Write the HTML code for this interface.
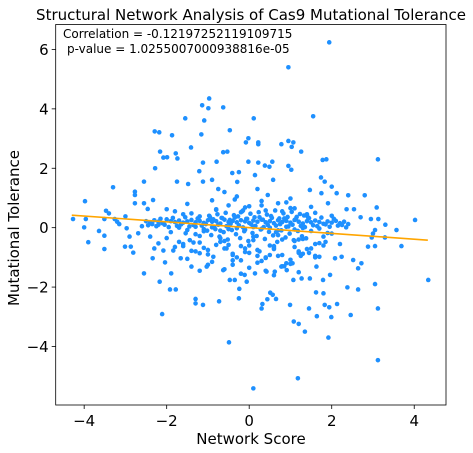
<!DOCTYPE html>
<html><head><meta charset="utf-8">
<style>
html,body{margin:0;padding:0;background:#fff;}
svg{display:block;font-family:"DejaVu Sans","Liberation Sans",sans-serif;}
</style></head>
<body>
<svg id="chart" width="473" height="453" viewBox="0 0 473 453" xmlns="http://www.w3.org/2000/svg">
<rect x="0" y="0" width="473" height="453" fill="#fff"/>
<text x="251" y="20" text-anchor="middle" font-size="15" fill="#000">Structural Network Analysis of Cas9 Mutational Tolerance</text>
<g id="points"></g>
<g id="fit"></g>
<rect x="55.7" y="24.5" width="390.3" height="380.5" fill="none" stroke="#000" stroke-width="0.8"/>
<g id="xticks"></g>
<g id="yticks"></g>
<text x="251" y="444" text-anchor="middle" font-size="15" fill="#000">Network Score</text>
<text transform="translate(19,228) rotate(-90)" text-anchor="middle" font-size="15" fill="#000">Mutational Tolerance</text>
<text x="63" y="38" font-size="12" fill="#000">Correlation = -0.12197252119109715</text>
<text x="67" y="53" font-size="12" fill="#000">p-value = 1.0255007000938816e-05</text>
</svg>
<script>
const xTicks = [-4, -2, 0, 2, 4];
const yTicks = [-4, -2, 0, 2, 4, 6];
const xTickLabels = ["\u22124", "\u22122", "0", "2", "4"];
const yTickLabels = ["\u22124", "\u22122", "0", "2", "4", "6"];
const fitX = [-4.3, 4.33];
const fitY = [0.42, -0.42];
const pointsX = [
1.94,0.95,-0.97,-1.14,-0.99,-0.63,1.55,0.11,-1.55,-1.09,-0.47,-2.29,-2.18,-1.87,-1.16,-0.02,-0.08,0.22,0.22,0.95,1.07,0.78,1.03,-1.41,1.26,3.12,-2.16,-0.63,-0.53,-1.78,-1.74,-2.08,-1.99,1.78,1.87,-0.02,0.22,0.56,-0.79,-1.12,-2.28,0.38,0.49,0.95,1.02,-1.21,-0.41,-0.25,0.14,-2.55,-1.75,-1.48,-1.12,-0.90,-0.29,0.58,1.74,1.83,-3.30,
0.10,1.18,3.12,-0.49,1.92,1.35,-2.11,2.46,1.99,1.64,1.08,1.20,3.12,0.30,0.32,0.65,0.44,-0.25,-1.12,-1.30,-1.30,-0.73,0.99,1.45,1.83,1.94,2.13,-1.92,-1.78,-0.24,2.38,2.64,3.05,4.34,-2.55,-2.17,-1.89,1.62,1.80,0.51,0.57,
-4.27,-3.98,-4.0,-3.96,-3.90,-3.64,-3.51,-3.51,-3.47,-3.40,-3.51,-3.26,-3.01,-2.87,-2.81,-2.77,-2.77,-2.77,-3.15,-2.97,-2.69,-2.55,-2.46,-2.33,-2.34,-2.30,-2.20,-2.08,-2.04,-1.84,-1.66,-1.54,-1.44,-1.40,-1.20,-1.03,-0.87,-0.63,-0.47,-0.35,-0.11,-0.06,0.14,0.42,0.62,0.78,0.91,1.07,1.27,1.47,1.63,1.79,1.96,2.08,2.24,2.52,2.72,2.64,2.88,2.97,3.05,3.13,2.95,3.09,3.57,3.69,4.02,3.29,3.05,2.80,2.40,2.36,2.54,2.12,2.00,1.91,1.75,1.47,
-2.5,-2.4,-2.3,-2.2,-2.1,-2.0,-1.9,-1.8,-1.7,-1.6,-1.5,-1.4,-1.3,-1.2,-1.1,-1.0,-0.9,-0.8,-0.7,-0.6,-0.5,-0.4,-0.3,-0.2,-0.1,0.0,0.1,0.2,0.3,0.4,0.5,0.6,0.7,0.8,0.9,1.0,1.1,1.2,1.3,1.4,1.5,1.6,1.7,1.8,1.9,2.0,2.1,2.2,2.3,2.4,
-2.45,-2.35,-2.25,-2.15,-2.05,-1.95,-1.85,-1.75,-1.65,-1.55,-1.45,-1.35,-1.25,-1.15,-1.05,-0.95,-0.85,-0.75,-0.65,-0.55,-0.45,-0.35,-0.25,-0.15,-0.05,0.05,0.15,0.25,0.35,0.45,0.55,0.65,0.75,0.85,0.95,1.05,1.15,1.25,1.35,1.45,1.55,1.65,1.75,1.85,1.95,2.05,2.15,2.25,2.35,
-2.0,-1.8,-1.6,-1.4,-1.2,-1.0,-0.8,-0.6,-0.4,-0.2,0.0,0.2,0.4,0.6,0.8,1.0,1.2,1.4,1.6,1.8,2.0,
-1.9,-1.7,-1.5,-1.3,-1.1,-0.9,-0.7,-0.5,-0.3,-0.1,0.1,0.3,0.5,0.7,0.9,1.1,1.3,1.5,1.7,1.9,
-1.5,-1.3,-1.1,-0.9,-0.7,-0.5,-0.3,-0.1,0.1,0.3,0.5,0.7,0.9,1.1,1.3,1.5,1.7,
-1.6,-1.2,-0.8,-0.4,0.0,0.4,0.8,1.2,1.6,2.0,-1.0,-0.6,-0.2,0.2,0.6,1.0,1.4,
-1.35,-0.95,-0.55,-0.15,0.25,0.65,1.05,1.45,1.85,-2.2,-2.6,-3.0,-3.2,-2.9,2.7,3.0,3.3,-0.75,0.45,0.85,-0.35,1.25,
-1.02,-0.92,-0.82,-0.72,-0.62,-0.52,-0.42,-0.32,-0.22,-0.12,-0.02,0.08,0.18,0.28,0.38,0.48,0.58,0.68,0.78,0.88,0.98,1.08,1.18,1.28,1.38,
-0.97,-0.87,-0.77,-0.67,-0.57,-0.47,-0.37,-0.27,-0.17,-0.07,0.03,0.13,0.23,0.33,0.43,0.53,0.63,0.73,0.83,0.93,1.03,1.13,1.23,1.33,1.43,
-1.8,-1.6,-1.4,-1.2,-1.0,-0.8,-0.6,-0.4,-0.2,0.0,0.2,0.4,0.6,0.8,1.0,1.2,1.4,1.6,1.8,
-1.7,-1.5,-1.3,-1.1,-0.9,-0.7,-0.5,-0.3,-0.1,0.1,0.3,0.5,0.7,0.9,1.1,1.3,1.5,1.7,
-0.6,-0.4,-0.2,0.0,0.2,0.4,0.6,0.8,1.0,1.2,-0.5,-0.1,0.3,0.7,1.1,-1.2,1.6,2.2,-2.4,-2.0
];
const pointsY = [
6.24,5.40,4.35,4.12,4.02,4.05,3.75,3.68,3.68,3.61,3.28,3.24,3.21,3.11,3.14,3.01,2.87,2.87,2.81,2.92,2.87,2.81,2.72,2.70,2.56,2.30,2.56,2.54,2.56,2.50,2.33,2.36,2.37,2.28,2.30,2.22,2.19,2.22,2.22,2.19,2.00,2.09,2.05,2.08,1.95,1.90,1.84,1.87,1.77,1.55,1.55,1.47,1.55,1.61,1.54,1.61,1.69,1.55,1.36,
-5.41,-5.07,-4.46,-3.86,-3.70,-3.50,-2.91,-2.94,-3.01,-2.98,-3.16,-3.24,-2.72,-2.72,-2.57,-2.40,-2.41,-2.38,-2.60,-2.40,-2.55,-2.48,-2.60,-2.72,-2.60,-2.68,-2.57,-2.08,-2.08,-2.06,-2.01,-2.08,-1.90,-1.76,-1.54,-1.82,-1.54,-2.18,-2.21,-2.19,-2.26,
0.29,0.89,0.01,0.29,-0.49,-0.11,-0.27,-0.72,0.57,0.48,0.29,0.29,-0.64,-0.64,-0.84,1.21,1.10,0.82,0.12,-0.02,-0.19,0.82,0.63,0.93,-1.03,-0.70,-0.53,-0.77,-1.17,-0.77,-1.03,-0.19,-0.42,-1.31,-0.86,-1.31,-0.98,-1.43,-1.76,-1.76,-1.59,-1.82,-1.54,-1.48,-1.48,-1.31,-1.43,-1.76,-1.71,-1.71,-1.31,-1.76,-1.59,-1.03,-0.98,-1.09,-1.20,-1.37,-0.64,-0.33,-0.08,0.29,0.29,0.68,-0.08,-0.62,0.26,-0.33,-0.62,1.09,1.09,0.62,0.62,1.16,1.38,0.82,1.16,1.27,
0.22,0.18,0.25,0.20,0.15,0.28,0.22,0.19,0.24,0.17,0.21,0.26,0.18,0.23,0.16,0.25,0.20,0.22,0.14,0.27,0.19,0.23,0.18,0.25,0.21,0.16,0.24,0.20,0.27,0.18,0.22,0.15,0.25,0.19,0.23,0.17,0.26,0.20,0.14,0.22,0.18,0.24,0.19,0.13,0.21,0.17,0.23,0.15,0.20,0.12,
0.08,0.12,0.05,0.30,0.10,0.02,0.33,0.06,0.11,0.35,0.04,0.09,0.31,0.07,0.12,0.36,0.03,0.10,0.32,0.05,0.13,0.34,0.08,0.01,0.30,0.11,0.06,0.35,0.02,0.09,0.33,0.07,0.12,0.31,0.04,0.10,0.36,0.06,0.02,0.32,0.08,0.05,0.34,0.11,0.03,0.30,0.07,0.09,0.01,
-0.35,0.55,-0.62,0.48,-0.28,-0.75,0.62,-0.45,-0.88,0.52,-0.60,-0.95,0.58,-0.72,-0.40,0.66,-0.85,0.45,-0.55,-0.30,0.40,
-0.15,-0.48,0.80,-0.22,-0.68,0.92,-0.35,-0.58,1.05,-0.70,-0.42,0.75,-0.92,-0.25,0.85,-0.65,-0.38,0.70,-0.52,-0.18,
-1.05,-0.80,-0.12,-1.15,-0.48,-0.05,-1.00,-0.82,-0.30,-1.12,-0.60,-0.95,-1.20,-0.45,-0.88,-0.70,-0.98,
0.45,0.38,0.60,-0.92,0.72,-1.02,0.55,-0.40,0.50,-0.20,-1.25,1.20,-1.10,1.30,-0.62,0.98,0.40,
-0.50,0.30,-0.70,0.58,-0.80,-0.15,-1.20,-0.85,-0.48,0.10,0.05,0.38,0.20,-0.30,0.35,-0.20,0.10,1.30,1.10,-1.30,0.95,-0.95,
-0.10,-0.25,-0.05,-0.30,-0.15,-0.40,-0.08,-0.22,-0.35,-0.12,-0.45,-0.18,-0.28,-0.06,-0.38,-0.14,-0.26,-0.48,-0.09,-0.33,-0.20,-0.42,-0.11,-0.29,-0.36,
0.40,0.28,0.45,0.33,0.50,0.26,0.42,0.38,0.55,0.30,0.47,0.35,0.52,0.27,0.44,0.39,0.58,0.31,0.48,0.36,0.53,0.29,0.46,0.41,0.34,
-0.65,-0.55,-0.78,-0.50,-0.90,-0.58,-0.70,-1.10,-0.62,-0.85,-0.75,-1.00,-0.68,-0.92,-1.08,-0.80,-0.72,-0.95,-0.60,
0.00,-0.08,0.03,-0.05,0.01,-0.10,0.04,-0.02,-0.07,0.02,-0.04,0.00,-0.09,0.03,-0.06,-0.01,-0.11,-0.03,
-1.40,-1.25,-1.55,-1.35,-1.18,-1.45,-1.60,-1.30,-1.22,-1.50,0.75,0.68,0.90,0.82,0.65,-1.45,-1.00,-0.55,-0.30,0.62
];
const xMin=-4.69, xMax=4.77, yMin=-5.97, yMax=6.84;
const L=55.7, R=446, T=24.5, B=405;
function sx(v){return L+(v-xMin)/(xMax-xMin)*(R-L);}
function sy(v){return B-(v-yMin)/(yMax-yMin)*(B-T);}
const NS="http://www.w3.org/2000/svg";
const pg=document.getElementById('points');
const n=Math.min(pointsX.length,pointsY.length);
for(let i=0;i<n;i++){
  const c=document.createElementNS(NS,'circle');
  c.setAttribute('cx',sx(pointsX[i]).toFixed(2));
  c.setAttribute('cy',sy(pointsY[i]).toFixed(2));
  c.setAttribute('r','2.3');
  c.setAttribute('fill','#1e90ff');
  
  
  pg.appendChild(c);
}
const fg=document.getElementById('fit');
const ln=document.createElementNS(NS,'line');
ln.setAttribute('x1',sx(fitX[0]));ln.setAttribute('y1',sy(fitY[0]));
ln.setAttribute('x2',sx(fitX[1]));ln.setAttribute('y2',sy(fitY[1]));
ln.setAttribute('stroke','#ffa500');ln.setAttribute('stroke-width','1.6');


fg.appendChild(ln);
const xg=document.getElementById('xticks');
xTicks.forEach((v,i)=>{
  const t=document.createElementNS(NS,'line');
  t.setAttribute('x1',sx(v));t.setAttribute('x2',sx(v));t.setAttribute('y1',B);t.setAttribute('y2',B+4);
  t.setAttribute('stroke','#000');t.setAttribute('stroke-width','0.8');
  
  
  xg.appendChild(t);
  const tx=document.createElementNS(NS,'text');
  tx.setAttribute('x',sx(v));tx.setAttribute('y',B+21);tx.setAttribute('text-anchor','middle');
  tx.setAttribute('font-size','15');tx.textContent=xTickLabels[i];
  
  
  xg.appendChild(tx);
});
const yg=document.getElementById('yticks');
yTicks.forEach((v,i)=>{
  const t=document.createElementNS(NS,'line');
  t.setAttribute('x1',L-4);t.setAttribute('x2',L);t.setAttribute('y1',sy(v));t.setAttribute('y2',sy(v));
  t.setAttribute('stroke','#000');t.setAttribute('stroke-width','0.8');
  
  
  yg.appendChild(t);
  const tx=document.createElementNS(NS,'text');
  tx.setAttribute('x',L-7);tx.setAttribute('y',sy(v)+5.5);tx.setAttribute('text-anchor','end');
  tx.setAttribute('font-size','15');tx.textContent=yTickLabels[i];
  
  
  yg.appendChild(tx);
});
</script>
</body></html>
